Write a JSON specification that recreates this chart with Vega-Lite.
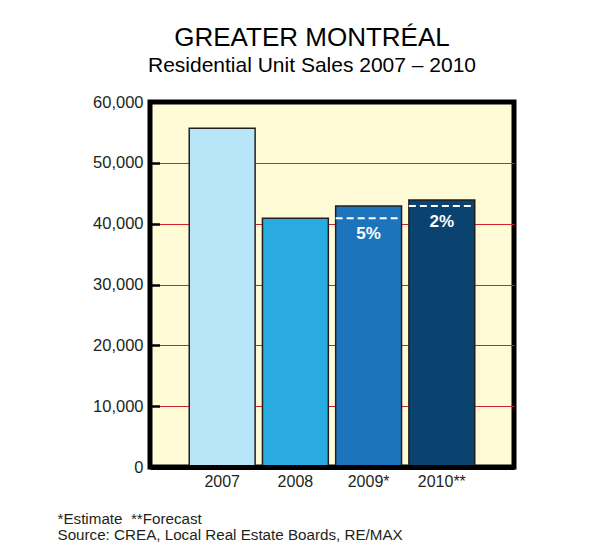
{
  "$schema": "https://vega.github.io/schema/vega-lite/v6.json",
  "autosize": {"type": "none"},
  "width": 364,
  "height": 365,
  "padding": {"left": 150, "top": 102, "right": 77, "bottom": 89},
  "background": "white",
  "title": {
    "text": "GREATER MONTRÉAL",
    "subtitle": "Residential Unit Sales 2007 – 2010",
    "anchor": "middle",
    "frame": "group",
    "dx": -20,
    "offset": 18,
    "font": "Liberation Sans",
    "fontSize": 26,
    "fontWeight": "normal",
    "color": "#000000",
    "subtitleFont": "Liberation Sans",
    "subtitleFontSize": 21,
    "subtitleColor": "#000000",
    "subtitlePadding": 4
  },
  "config": {
    "font": "Liberation Sans",
    "view": {"fill": "#FFFBD7", "stroke": "#000000", "strokeWidth": 5}
  },
  "layer": [
    {
      "data": {"values": [
        {"year": "2007", "sales": 55700},
        {"year": "2008", "sales": 40900},
        {"year": "2009*", "sales": 42900},
        {"year": "2010**", "sales": 43900}
      ]},
      "mark": {"type": "bar", "stroke": "#231F20", "strokeWidth": 1.5},
      "encoding": {
        "x": {
          "field": "year", "type": "nominal", "sort": null,
          "scale": {"domain": ["2007", "2008", "2009*", "2010**"], "paddingInner": 0.1, "paddingOuter": 0.536},
          "axis": {
            "domain": true, "domainColor": "#000000", "domainWidth": 5,
            "ticks": false, "grid": false, "labelAngle": 0,
            "labelFontSize": 16, "labelColor": "#231F20", "labelPadding": 6,
            "zindex": 1,
            "title": ["*Estimate\u00a0\u00a0**Forecast", "\u00a0Source: CREA, Local Real Estate Boards, RE/MAX"],
            "titleX": -93, "titleY": 56, "titleAlign": "left", "titleAnchor": "start",
            "titleBaseline": "alphabetic", "titleFontSize": 15.2, "titleFontWeight": "normal",
            "titleLineHeight": 16, "titleColor": "#231F20"
          }
        },
        "y": {
          "field": "sales", "type": "quantitative",
          "scale": {"domain": [0, 60000], "nice": false},
          "axis": {
            "values": [0, 10000, 20000, 30000, 40000, 50000, 60000],
            "format": ",.0f",
            "offset": -9.5,
            "grid": true,
            "gridColor": {"condition": {"test": "datum.value === 60000 || datum.value === 0", "value": "transparent"}, "value": "#D2232A"},
            "gridWidth": 1, "gridOpacity": 1,
            "domain": false,
            "ticks": true, "tickSize": 9.5, "tickWidth": 2.5, "tickColor": "#000000",
            "labelFontSize": 16.5, "labelColor": "#231F20", "labelPadding": 7,
            "title": null
          }
        },
        "color": {
          "field": "year", "type": "nominal",
          "scale": {"domain": ["2007", "2008", "2009*", "2010**"], "range": ["#B9E5F9", "#29AAE1", "#1C75BC", "#0A436F"]},
          "legend": null
        }
      }
    },
    {
      "data": {"values": [
        {"year": "2009*", "ref": 40900, "label": "5%"},
        {"year": "2010**", "ref": 42900, "label": "2%"}
      ]},
      "layer": [
        {
          "mark": {"type": "rule", "color": "#FFFFFF", "strokeWidth": 2, "strokeDash": [7, 4]},
          "encoding": {
            "x": {"field": "year", "type": "nominal", "bandPosition": 0},
            "x2": {"field": "year", "bandPosition": 1},
            "y": {"field": "ref", "type": "quantitative"}
          }
        },
        {
          "mark": {"type": "text", "color": "#FFFFFF", "fontWeight": "bold", "fontSize": 17, "baseline": "top", "dy": 8},
          "encoding": {
            "x": {"field": "year", "type": "nominal"},
            "y": {"field": "ref", "type": "quantitative"},
            "text": {"field": "label"}
          }
        }
      ]
    }
  ]
}
